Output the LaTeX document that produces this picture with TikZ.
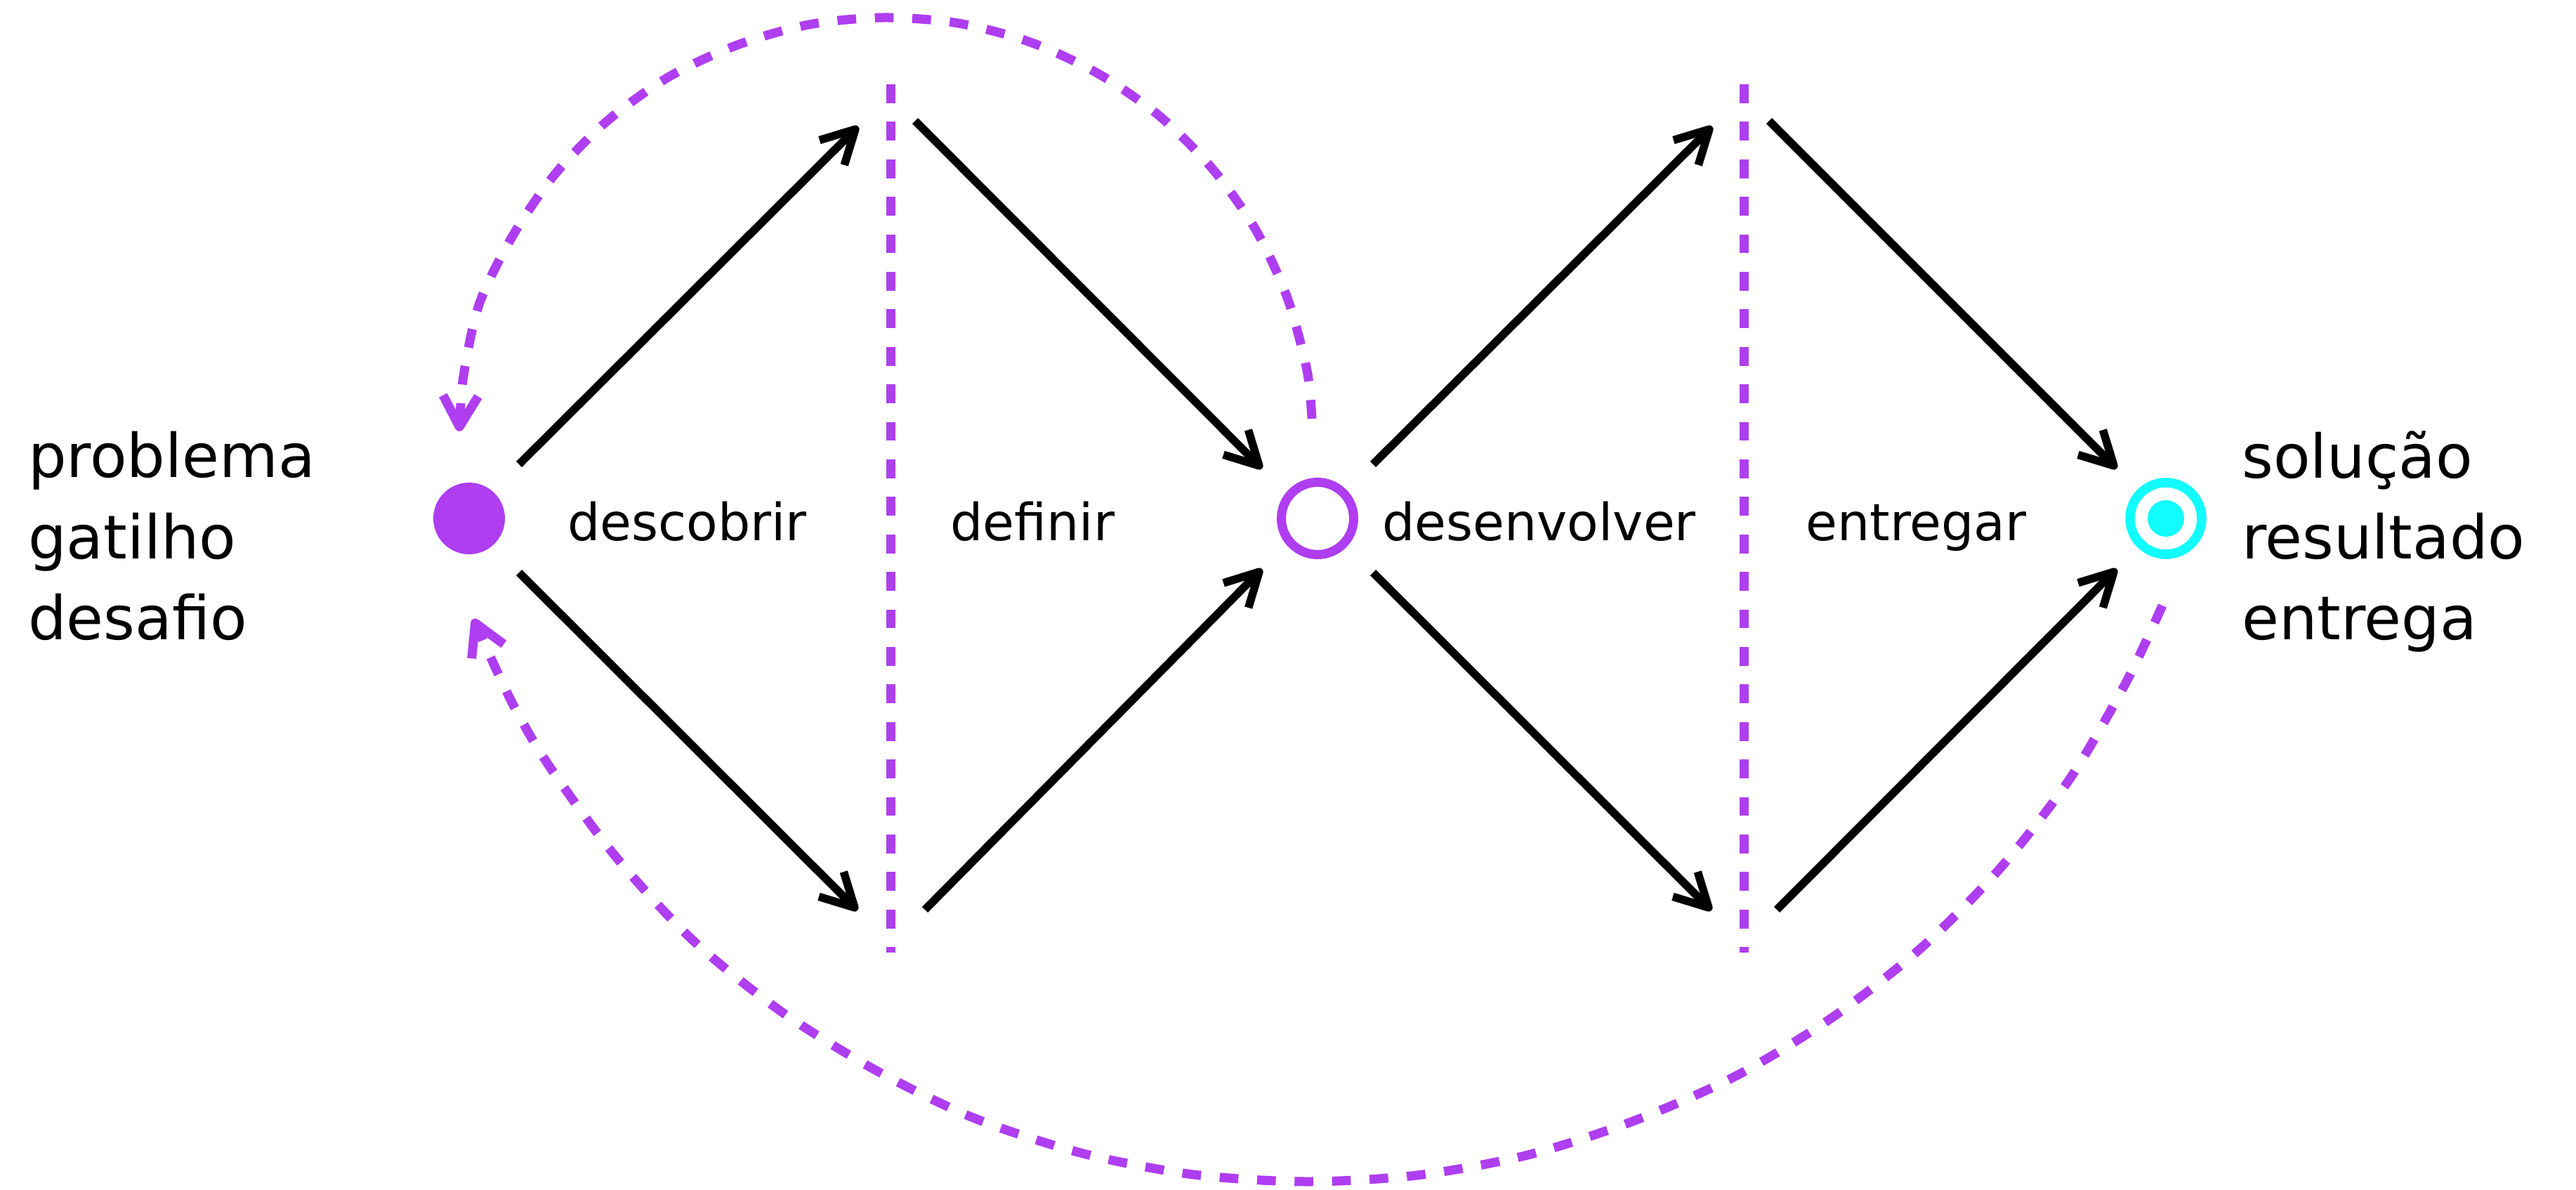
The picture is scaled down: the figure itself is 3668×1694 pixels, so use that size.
\documentclass[tikz,border=0pt]{standalone}
\usepackage{fontspec}
\setmainfont{DejaVu Sans}
\usetikzlibrary{arrows.meta}
\definecolor{roxo}{RGB}{174,62,240}
\definecolor{ciano}{RGB}{16,252,255}
\begin{document}
\begin{tikzpicture}[x=1pt,y=-1pt,
  arr/.style={line width=11.5pt, -{Straight Barb[length=47pt,width=50pt,line join=round,line cap=butt]}},
  retorno/.style={draw=roxo, line width=13pt, dash pattern=on 26.7pt off 26.7pt,
    -{Straight Barb[length=44pt,width=50pt,line join=round,line cap=butt]}},
  divisor/.style={draw=roxo, line width=13pt, dash pattern=on 26.7pt off 26.7pt},
  big/.style={font=\fontsize{86pt}{103pt}\selectfont, anchor=base west, inner sep=0pt},
  lab/.style={font=\fontsize{73pt}{88pt}\selectfont, anchor=base west, inner sep=0pt},
]
\useasboundingbox (0,0) rectangle (3668,1694);

% state circles
\node[circle, fill=roxo, minimum size=102pt, inner sep=0pt] (inicio) at (668,738) {};
\node[circle, draw=roxo, line width=13pt, minimum size=103pt, inner sep=0pt] (meio) at (1876,738) {};
\node[circle, draw=ciano, line width=13.5pt, minimum size=102pt, inner sep=0pt] (fim) at (3084,738) {};
\node[circle, fill=ciano, minimum size=52pt, inner sep=0pt] (fimc) at (fim) {};

% texts
\node[big] (t1) at (40,679) {problema};
\node[big] (t2) at (40,795) {gatilho};
\node[big] (t3) at (40,910) {desafio};
\node[big] (s1) at (3192,680) {solução};
\node[big] (s2) at (3192,795) {resultado};
\node[big] (s3) at (3192,910) {entrega};
\node[lab] (l1) at (808,769) {descobrir};
\node[lab] (l2) at (1353,769) {definir};
\node[lab] (l3) at (1968,769) {desenvolver};
\node[lab] (l4) at (2571,769) {entregar};

% dividers
\coordinate (d1a) at (1268,120); \coordinate (d1b) at (1268,1356);
\coordinate (d2a) at (2483,120); \coordinate (d2b) at (2483,1356);
\draw[divisor] (d1a) -- (d1b);
\draw[divisor] (d2a) -- (d2b);

% arrow end points
\coordinate (a1s) at (739,661);   \coordinate (a1e) at (1222,180);
\coordinate (a2s) at (1303,172);  \coordinate (a2e) at (1797,667);
\coordinate (a3s) at (739,815);   \coordinate (a3e) at (1221,1296);
\coordinate (a4s) at (1317,1295); \coordinate (a4e) at (1797,810);
\coordinate (a5s) at (1955,661);  \coordinate (a5e) at (2438,180);
\coordinate (a6s) at (2519,172);  \coordinate (a6e) at (3014,667);
\coordinate (a7s) at (1955,815);  \coordinate (a7e) at (2437,1296);
\coordinate (a8s) at (2530,1295); \coordinate (a8e) at (3014,810);

\draw[arr] (a1s) -- (a1e);
\draw[arr] (a2s) -- (a2e);
\draw[arr] (a3s) -- (a3e);
\draw[arr] (a4s) -- (a4e);
\draw[arr] (a5s) -- (a5e);
\draw[arr] (a6s) -- (a6e);
\draw[arr] (a7s) -- (a7e);
\draw[arr] (a8s) -- (a8e);

% feedback loops
\coordinate (uS) at (1868,596); \coordinate (uE) at (654,614);
\coordinate (bS) at (3079,862); \coordinate (bE) at (674,881);
\draw[retorno] plot[smooth] coordinates {(uS) (1861,527) (1833,424) (1788,327) (1727,241) (1652,166)
  (1564,105) (1467,60) (1364,33) (1258,25) (1152,35) (1050,64) (953,109) (866,171) (791,247)
  (731,334) (683,431) (660,535) (uE)};
\draw[retorno] plot[smooth] coordinates {(bS) (3027,972) (2947,1109) (2848,1236) (2736,1349)
  (2611,1447) (2473,1531) (2328,1595) (2176,1644) (2018,1673) (1859,1682) (1699,1672)
  (1542,1642) (1388,1592) (1246,1523) (1111,1439) (986,1338) (878,1221) (783,1092)
  (729,1000) (bE)};
\end{tikzpicture}
\end{document}
